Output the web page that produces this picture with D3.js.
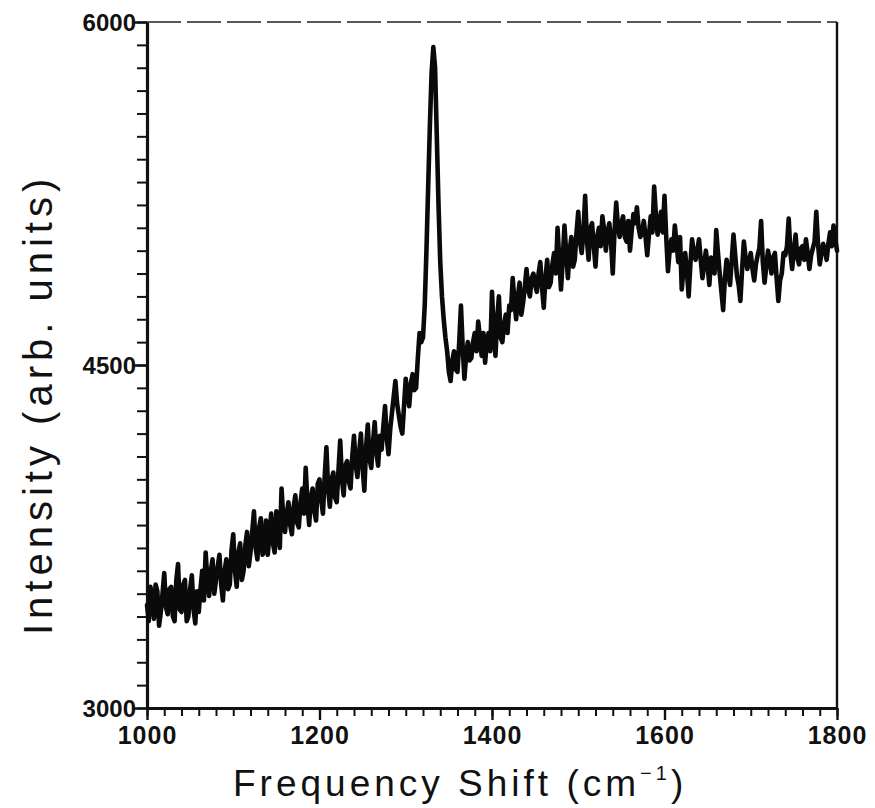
<!DOCTYPE html>
<html>
<head>
<meta charset="utf-8">
<script src="https://cdn.jsdelivr.net/npm/d3@7"></script>
<style>
  body { margin: 0; background: #fff; }
  svg text { font-family: "Liberation Sans", Arial, sans-serif; fill: #111; }
</style>
</head>
<body>
<svg id="chart" width="875" height="808"></svg>
<script>
// Raman spectrum.
// intensity: 1000, 1004, ... 1800 cm-1; intensityMid: 1002, 1006, ... 1798 cm-1
var shiftStart = 1000, shiftStep = 4;
var intensity = [
  3450, 3530, 3390, 3510, 3420,
  3590, 3410, 3530, 3380, 3630,
  3420, 3560, 3400, 3580, 3370,
  3420, 3600, 3680, 3490, 3650,
  3560, 3670, 3470, 3650, 3540,
  3760, 3530, 3720, 3600, 3770,
  3680, 3860, 3650, 3830, 3690,
  3670, 3850, 3680, 3790, 3960,
  3770, 3900, 3760, 3930, 3790,
  3960, 4050, 3800, 3960, 3820,
  4000, 3850, 4140, 3880, 4030,
  3900, 4170, 3930, 4080, 3960,
  4190, 4010, 4200, 3950, 4240,
  4050, 4250, 4060, 4130, 4320,
  4110, 4290, 4430, 4280, 4200,
  4440, 4320, 4460, 4400, 4640,
  4620, 5000, 5550, 5890, 5500,
  4950, 4700, 4560, 4430, 4560,
  4470, 4760, 4440, 4600, 4530,
  4640, 4690, 4540, 4510, 4640,
  4820, 4540, 4800, 4600, 4720,
  4760, 4880, 4700, 4860, 4770,
  4920, 4800, 4900, 4820, 4950,
  4750, 4960, 4860, 4990, 5100,
  4830, 5110, 4880, 5060, 4960,
  5170, 4990, 5240, 4960, 5120,
  4930, 5100, 5150, 5000, 5120,
  4900, 5210, 5060, 5150, 5040,
  5000, 5160, 5190, 5060, 5130,
  4980, 5150, 5280, 5070, 5170,
  5240, 4910, 5050, 5110, 4950,
  4830, 4990, 4800, 5050, 4960,
  5050, 4880, 5000, 4850, 4960,
  5090, 4900, 4740, 4960, 4850,
  5070, 4890, 4780, 5040, 4920,
  4990, 4870, 4980, 5130, 4860,
  5000, 4900, 4990, 4780, 4900,
  4980, 5140, 4920, 5070, 4940,
  5020, 5050, 4920, 5010, 5170,
  4940, 5030, 4960, 5080, 5110,
  5000
];
var intensityMid = [
  3380, 3480, 3540, 3360, 3500,
  3440, 3520, 3400, 3560, 3430,
  3540, 3380, 3520, 3430, 3510,
  3520, 3470, 3560, 3600, 3500,
  3620, 3540, 3600, 3520, 3690,
  3600, 3680, 3560, 3710, 3620,
  3770, 3700, 3790, 3670, 3820,
  3760, 3720, 3860, 3700, 3830,
  3850, 3800, 3880, 3810, 3900,
  3850, 3900, 3920, 3860, 3980,
  3910, 4010, 3960, 4000, 3920,
  4040, 4000, 4060, 3990, 4100,
  4060, 4120, 4050, 4140, 4090,
  4160, 4120, 4190, 4230, 4180,
  4220, 4360, 4330, 4230, 4320,
  4370, 4420, 4390, 4530, 4600,
  4760, 5280, 5780, 5800, 5200,
  4800, 4620, 4470, 4520, 4480,
  4600, 4580, 4540, 4520, 4600,
  4560, 4620, 4640, 4600, 4560,
  4650, 4700, 4620, 4680, 4640,
  4740, 4780, 4800, 4720, 4840,
  4830, 4880, 4850, 4900, 4840,
  4880, 4840, 4940, 4900, 4960,
  4960, 4990, 5000, 4930, 5080,
  5040, 5080, 5050, 5100, 5020,
  5060, 5020, 5090, 5080, 5040,
  5080, 5110, 5120, 5060, 5130,
  5090, 5120, 5100, 5080, 5060,
  5070, 5080, 5160, 5120, 5080,
  5060, 5000, 5000, 5030, 5060,
  4920, 4910, 4940, 4990, 5000,
  4960, 4940, 4930, 4970, 4900,
  4990, 4820, 4880, 4900, 4960,
  4980, 4850, 4920, 4970, 4950,
  4920, 4940, 5010, 4950, 4930,
  4960, 4970, 4880, 4870, 4990,
  5020, 4990, 5000, 4970, 5010,
  4960, 4990, 4980, 5040, 5030,
  4990, 5000, 5030, 5020, 5050
];
var xMajor = [1000, 1200, 1400, 1600, 1800];
var yMajor = [3000, 4500, 6000];

// merge the two readings into one trace ordered by shift
var spectrum = [];
intensity.forEach(function(v, i) {
  spectrum.push({ shift: shiftStart + i * shiftStep, value: v });
  if (i < intensityMid.length) {
    spectrum.push({ shift: shiftStart + i * shiftStep + shiftStep / 2, value: intensityMid[i] });
  }
});

var plotLeft = 147, plotRight = 837, plotTop = 22, plotBottom = 708;

var x = d3.scaleLinear().domain([1000, 1800]).range([plotLeft, plotRight]);
var y = d3.scaleLinear().domain([3000, 6000]).range([plotBottom, plotTop]);

var svg = d3.select("#chart");

// frame: top dashed (faint in scan), right solid
svg.append("line")
  .attr("x1", plotLeft).attr("x2", plotRight).attr("y1", plotTop).attr("y2", plotTop)
  .attr("stroke", "#222").attr("stroke-width", 1.6)
  .attr("stroke-dasharray", "34,6");
svg.append("line")
  .attr("x1", plotRight).attr("x2", plotRight).attr("y1", plotTop).attr("y2", plotBottom)
  .attr("stroke", "#111").attr("stroke-width", 2.4);

// minor ticks
svg.append("g")
  .attr("transform", "translate(" + plotLeft + ",0)")
  .call(d3.axisLeft(y).tickValues(d3.range(3000, 6001, 100)).tickSize(10).tickFormat(""))
  .call(function(g) { g.select(".domain").remove(); })
  .selectAll("line").attr("stroke", "#111").attr("stroke-width", 2);

svg.append("g")
  .attr("transform", "translate(0," + plotBottom + ")")
  .call(d3.axisBottom(x).tickValues(d3.range(1000, 1801, 20)).tickSize(8).tickFormat(""))
  .call(function(g) { g.select(".domain").remove(); })
  .selectAll("line").attr("stroke", "#111").attr("stroke-width", 2);

// major ticks + labels
var yAxis = svg.append("g")
  .attr("transform", "translate(" + plotLeft + ",0)")
  .call(d3.axisLeft(y).tickValues(yMajor).tickFormat(d3.format("d"))
    .tickSize(14).tickPadding(0).tickSizeOuter(0));
yAxis.select(".domain").attr("stroke", "#111").attr("stroke-width", 3.2);
yAxis.selectAll(".tick line").attr("stroke", "#111").attr("stroke-width", 2.4);
yAxis.selectAll(".tick text")
  .attr("x", -11).attr("dy", "0.36em")
  .style("font-size", "24px").style("font-weight", "bold");

var xAxis = svg.append("g")
  .attr("transform", "translate(0," + plotBottom + ")")
  .call(d3.axisBottom(x).tickValues(xMajor).tickFormat(d3.format("d"))
    .tickSize(12).tickSizeOuter(0));
xAxis.select(".domain").attr("stroke", "#111").attr("stroke-width", 3.2);
xAxis.selectAll(".tick line").attr("stroke", "#111").attr("stroke-width", 2.4);
xAxis.selectAll(".tick text")
  .attr("y", 18).attr("dy", "0.71em")
  .style("font-size", "25px").style("font-weight", "bold")
  .style("letter-spacing", "1px");

// spectrum
var line = d3.line()
  .x(function(d) { return x(d.shift); })
  .y(function(d) { return y(d.value); });

svg.append("path")
  .datum(spectrum)
  .attr("d", line)
  .attr("fill", "none")
  .attr("stroke", "#0a0a0a")
  .attr("stroke-width", 4.6)
  .attr("stroke-linejoin", "round")
  .attr("stroke-linecap", "round");

// axis titles
var xt = svg.append("text")
  .attr("x", 233).attr("y", 796)
  .style("font-size", "37px")
  .style("letter-spacing", "4px");
xt.append("tspan").text("Frequency Shift (cm");
xt.append("tspan").attr("dy", -16).style("font-size", "20px").text("−1");
xt.append("tspan").attr("dy", 16).text(")");

svg.append("text")
  .attr("transform", "translate(52,635)rotate(-90)")
  .style("font-size", "40px")
  .style("letter-spacing", "5px")
  .text("Intensity (arb. units)");
</script>
</body>
</html>
